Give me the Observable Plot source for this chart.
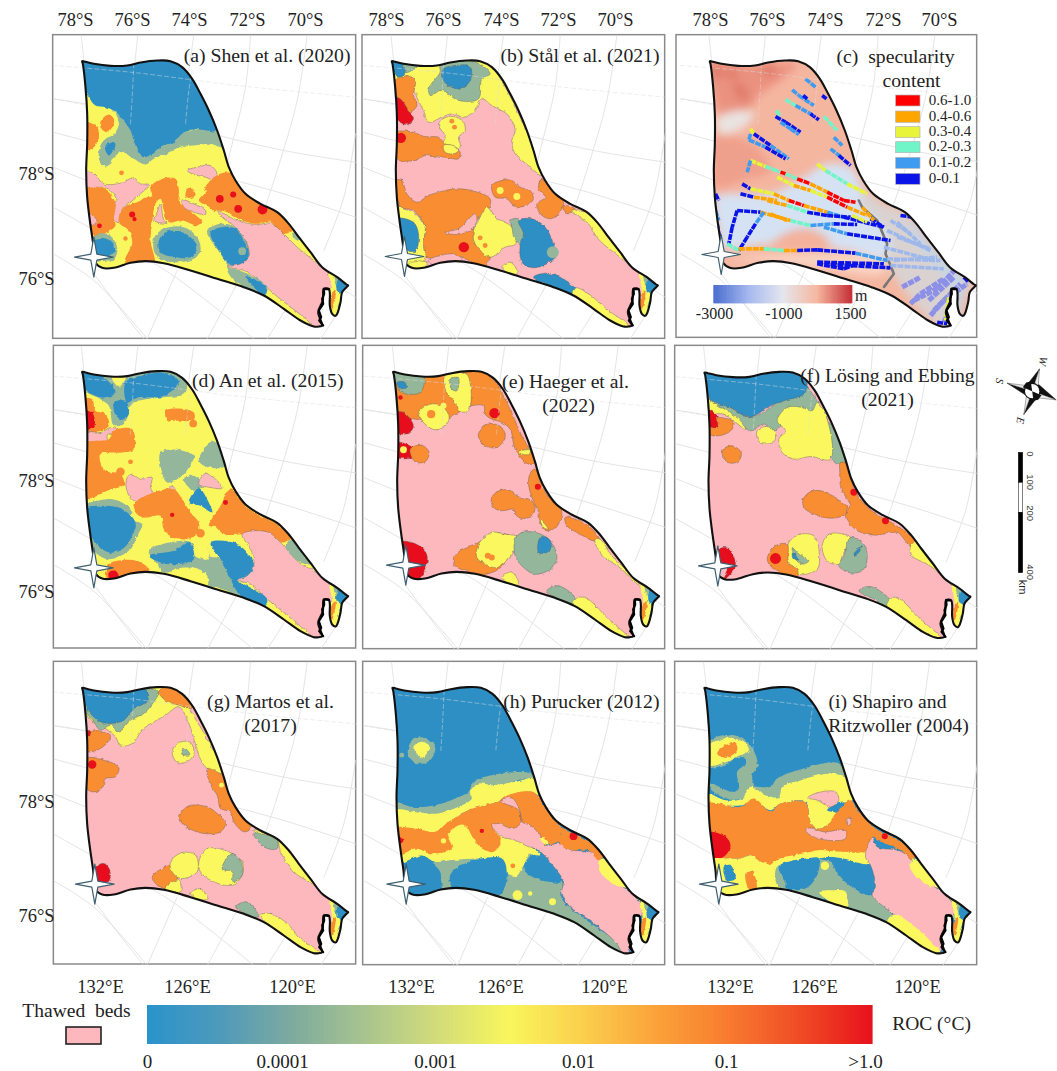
<!DOCTYPE html>
<html><head><meta charset="utf-8">
<style>html,body{margin:0;padding:0;background:#fff}svg{display:block}</style>
<script src="https://cdn.jsdelivr.net/npm/d3@7"></script>
<script src="https://cdn.jsdelivr.net/npm/@observablehq/plot@0.6"></script>
</head><body>
<div id="chart"></div>
<script>
// Map units: 1/3 page pixel, measured inside each panel's own window.
const panelKeys = ["a","b","c","d","e","f","g","h","i"];
const panelOrigins = {a:[50,30],b:[358,30],c:[670,30],d:[50,342],e:[358,342],f:[670,342],g:[50,658],h:[358,658],i:[670,658]};
const outlineShift = {a:[0,0],b:[5,0],c:[23,0],d:[0,-4],e:[9,-4],f:[7,-2],g:[0,-4],h:[7,-4],i:[7,-4]};
const starCentres = {a:[130,680],b:[138,678],c:[152,672],d:[130,676],e:[142,668],f:[142,670],g:[133,677],h:[143,677],i:[145,677]};
const frames = {a:[8,14,917,925],b:[12,14,920,925],c:[18,14,920,922],d:[10,10,917,918],e:[14,10,920,920],f:[14,10,920,920],g:[10,10,917,918],h:[14,10,920,920],i:[14,10,920,920]};
const baseClass = {a:"y",b:"p",c:"d",d:"y",e:"p",f:"p",g:"p",h:"b",i:"b"};
const edgedPanels = ["b","e","f","g"];

const classColours = {b:"#2E8FC5",t:"#94B79B",y:"#FAF75E",o:"#F88D33",r:"#E8101A",p:"#FDB8BE",d:"#F5B6A0"};
const roc = ["0","0.0001","0.001","0.01","0.1",">1.0"];
const rocTickAt = [147,282,435,578,726,865];
const rocRamp = ["#2B93CC","#4F9ABA","#7FAB9E","#A8C48F","#D2DC7A","#F9F65C","#FBD04E","#FBA43A","#F87D30","#F04E26","#E8141C"];
const demRamp = ["#4C6ED0","#A5B8EE","#E4E6EE","#F6B8A0","#C6333A"];

const outline = [95,92,105,94,130,100,180,106,230,105,270,96,320,90,360,92,395,110,425,145,450,190,475,240,500,300,520,360,535,410,555,450,585,490,630,520,680,545,715,580,745,620,780,665,815,710,860,740,888,762,893,765,888,770,875,785,870,815,860,850,855,856,845,850,838,825,838,790,835,776,820,775,817,810,803,845,815,885,805,888,790,888,750,870,700,835,640,795,580,770,500,745,420,720,340,698,285,692,240,697,190,712,155,712,135,697,128,640,118,570,110,500,107,420,110,340,110,250,105,170,97,100];
const tipBands = [
 ["y",[838,730,865,745,880,780,868,830,858,858,838,830,845,780]],
 ["o",[845,790,855,780,852,815,845,835,838,820]],
 ["t",[850,735,868,745,870,770,860,770]],
 ["b",[893,765,865,745,858,778,872,792,860,832,878,795]]
];
const graticule = [
 [92,14,100,90,105,200],[262,14,250,130,240,270,205,420],[430,14,415,120,395,290,350,470],[600,14,585,170,545,340,490,560],[770,14,740,210,680,420,620,600],
 [915,310,880,500,820,660],[8,205,130,225,400,290,700,360,915,395],[8,305,120,335,400,410,700,490,915,560],[8,410,200,485,500,590,780,720,915,800],
 [8,530,150,610,360,730,610,925],[8,670,130,750,290,925],[130,730,220,850,280,925],[560,760,470,925],[710,830,650,925],[380,720,290,925],[860,850,810,925],
];
const dashedGraticule = [[8,105,240,125,560,165,915,200],[250,100,245,200,240,280],[425,120,415,180,405,280],[8,205,100,222]];

const panelA = [
 ["t",[180,235,215,262,245,290,260,340,280,370,320,345,400,305,500,300,515,350,480,340,430,345,390,348,350,370,310,385,285,402,250,385,215,365,190,380,170,410,148,395,148,350,165,325,190,312,205,280,190,240]],
 ["b",[95,92,420,100,500,300,470,300,430,297,395,310,370,335,335,345,310,365,280,380,260,355,250,330,240,300,215,265,190,240,165,230,135,225,115,200,100,170]],
 ["o",[100,275,140,290,145,320,130,350,100,360]],
 ["o",[160,260,175,252,190,265,188,285,170,305,150,290,150,275]],
 ["b",[165,345,190,335,195,345,185,365,175,375,165,360]],
 ["p",[410,420,440,410,480,405,500,430,495,450,465,440,430,432]],
 ["p",[100,420,130,430,160,460,210,458,250,442,270,460,295,462,270,490,240,515,215,535,215,575,190,570,195,520,195,500,170,475,140,470,100,478]],
 ["o",[100,480,145,470,175,485,195,520,190,565,195,585,165,608,125,615,110,570]],
 ["p",[105,545,140,570,125,585,110,580]],
 ["o",[300,470,335,445,375,445,385,480,385,510,400,530,430,550,455,575,440,585,395,570,355,575,340,540,330,505,315,520,305,580,300,630,310,700,225,700,230,670,245,640,235,600,205,575,220,530,260,515,290,500,305,500]],
 ["p",[330,520,340,570,350,578,310,570,320,545]],
 ["o",[460,480,490,440,530,425,560,440,590,480,630,515,690,540,730,595,700,610,660,575,620,580,575,570,530,545,500,540,495,545,470,525,445,510,470,480]],
 ["o",[415,470,435,490,425,505,405,495]],
 ["p",[395,508,430,520,465,540,465,552,430,545,400,530]],
 ["t",[470,600,510,580,555,590,600,660,590,700,540,710,510,670]],
 ["b",[480,605,515,590,555,595,580,630,595,665,585,695,545,705,505,660]],
 ["p",[500,540,560,570,620,582,660,578,700,610,740,650,790,690,835,730,850,760,830,790,830,830,810,900,760,860,720,830,670,790,620,745,580,720,530,710,570,700,595,680,590,640,555,590,520,565]],
 ["t",[530,715,580,725,650,770,640,800,590,775,550,750]],
 ["b",[585,738,620,750,650,770,640,795,610,770]],
 ["t",[340,595,400,590,440,620,450,660,430,685,380,695,320,680,310,625]],
 ["b",[345,605,395,605,430,630,440,655,420,680,375,680,330,665,325,630]],
 ["t",[125,625,170,610,200,650,190,690,170,690,135,690]],
 ["b",[125,630,170,625,195,660,175,675,145,675]],
 ["t",[725,610,735,600,750,625,740,630]]
];
const dotsA = [[508,505,2.5,"r"],[548,492,1.5,"r"],[563,535,2.5,"r"],[636,537,4,"r"],[245,552,1.5,"r"],[147,586,1,"r"],[252,566,.7,"r"],[575,662,2.5,"t"],[213,427,1,"o"],[225,624,.8,"o"]];

const panelB = [
 ["y",[90,92,360,92,400,110,440,170,480,250,520,340,550,435,510,405,470,370,460,330,470,300,450,255,400,225,370,205,350,240,320,260,280,250,250,260,210,275,195,240,175,200,165,165,125,155,100,145]],
 ["t",[130,100,175,105,150,125,130,125]],
 ["b",[95,85,130,100,140,125,120,140,105,120]],
 ["t",[210,175,245,125,245,105,345,92,395,130,370,145,360,205,300,210,250,180,215,195]],
 ["b",[255,115,290,105,335,108,335,150,305,175,270,165,250,140]],
 ["o",[100,160,145,135,170,150,165,195,175,225,155,245,130,235,115,195]],
 ["r",[105,200,125,205,150,240,165,265,145,282,120,270]],
 ["y",[240,280,270,258,310,268,320,300,300,320,305,350,270,368,250,345,260,320]],
 ["o",[100,310,150,302,200,318,240,320,260,340,280,345,305,365,300,385,260,380,230,380,200,372,170,390,100,380]],
 ["y",[255,345,285,345,300,360,285,370,260,365]],
 ["y",[100,470,125,530,165,545,200,590,195,640,205,680,190,695,150,720,120,680,110,560]],
 ["o",[100,450,130,450,145,490,175,515,210,495,260,480,290,475,340,480,395,505,390,535,355,570,345,600,350,635,395,680,380,705,340,695,310,680,250,680,205,680,195,640,200,590,165,540,125,530,115,490]],
 ["b",[115,565,165,575,180,610,172,660,145,660,120,620]],
 ["p",[260,605,300,595,350,550,355,570,335,600,290,612]],
 ["p",[210,690,280,670,310,685,290,700,230,705]],
 ["y",[385,530,410,560,460,590,472,640,440,650,395,680,350,640,345,600,360,570]],
 ["t",[455,570,480,565,500,650,470,630,460,590]],
 ["b",[480,570,520,565,560,590,585,640,590,680,525,712,490,695,485,645,495,610]],
 ["o",[400,465,430,450,460,450,485,470,515,480,525,505,505,525,470,528,445,505,410,500]],
 ["o",[540,475,550,445,590,490,615,515,600,550,575,565,545,550,535,520,560,500]],
 ["o",[615,525,650,535,630,550,617,545]],
 ["y",[640,540,690,545,730,580,755,620,810,680,860,745,810,700,740,645,715,620,690,580]],
 ["b",[525,740,560,728,600,738,650,775,640,800,580,770]],
 ["y",[650,772,690,790,750,840,810,885,750,880,700,840,640,800]],
 ["y",[430,710,455,695,475,720,470,740]],
 ["y",[150,700,205,695,200,715,160,720]]
];
const dotsB = [[316,650,4.5,"r"],[127,322,4.5,"r"],[583,665,6,"t"],[425,480,2,"y"],[475,498,2,"y"],[280,272,1,"o"],[288,290,1,"o"],[365,622,1,"o"],[380,645,1,"o"]];

const demPatches = [
 ["#EFA08C",[135,315,200,320,260,350,300,420,220,450,135,470]],
 ["#EB9280",[118,92,190,100,300,100,380,100,340,140,260,200,240,230,150,250,130,200]],
 ["#E9E3E1",[140,265,190,240,250,245,220,290,150,312]],
 ["#F9D3C3",[175,690,300,672,640,690,640,730,440,712,300,695]],
 ["#D5E2F4",[135,500,170,490,300,490,400,440,470,400,540,410,580,480,640,590,660,630,650,680,540,660,400,640,300,640,160,650,145,600]],
 ["#F4B09A",[305,640,370,600,430,600,480,640,400,650]],
 ["#D9D2D0",[565,510,595,490,640,520,710,550,780,640,900,755,880,810,858,880,800,880,690,765,650,690,660,630,620,570]],
 ["#C6D5E5",[720,560,760,610,850,720,895,760,860,780,800,710,730,620]],
 ["#C6D5E5",[850,770,875,780,865,850,840,870,835,810]]
];
const demSpots = [[140,125,7],[185,130,6],[295,120,7],[205,175,6],[220,195,5]];
const demBoundary = [565,510,575,530,620,570,650,640,645,670,660,705,670,730,640,770];
const tracks = [
 [405,145,435,170,"c"],[365,178,385,195,"c"],[385,195,430,225,"c"],[398,195,410,205,"b"],[455,195,468,205,"b"],
 [345,207,375,225,"g"],[375,225,420,250,"c"],[420,250,445,268,"b"],[460,258,500,300,"g"],[490,320,515,345,"c"],[480,355,510,378,"c"],[505,375,540,405,"b"],
 [318,240,330,258,"g"],[315,258,345,275,"b"],[345,275,390,305,"b"],[330,275,360,295,"c"],[360,295,385,312,"c"],
 [240,295,250,310,"y"],[250,310,300,345,"b"],[300,345,355,385,"c"],[240,310,235,330,"c"],[235,328,285,350,"c"],[285,350,345,385,"b"],
 [240,390,285,408,"y"],[285,408,330,425,"g"],[330,425,345,430,"r"],[345,430,380,445,"g"],[380,445,420,460,"r"],[420,460,470,485,"o"],[470,485,520,510,"r"],[520,510,555,515,"r"],[240,390,230,425,"c"],
 [440,400,465,420,"y"],[465,420,530,460,"g"],[530,460,590,490,"y"],
 [215,460,240,475,"b"],[240,475,310,490,"y"],[310,490,355,510,"o"],[355,510,400,525,"r"],[400,525,470,545,"o"],[470,545,520,560,"c"],[520,560,560,570,"b"],[560,570,640,590,"b"],[600,565,640,590,"b"],
 [320,440,370,465,"y"],[370,465,420,480,"o"],[420,480,470,500,"y"],[470,500,530,530,"r"],[530,530,590,555,"o"],
 [210,490,250,500,"b"],[250,500,320,510,"o"],[290,510,350,525,"o"],[350,525,410,545,"g"],[410,545,470,555,"b"],[470,555,540,560,"b"],
 [200,540,270,545,"b"],[270,545,360,570,"o"],[360,570,420,585,"g"],[420,585,490,580,"c"],[490,580,560,582,"b"],[300,550,350,570,"o"],
 [280,545,255,580,"c"],[255,580,230,620,"b"],[230,620,205,660,"b"],[200,540,185,590,"b"],[185,590,175,640,"b"],
 [135,490,145,510,"b"],[135,540,145,570,"c"],[140,580,150,640,"b"],[170,640,205,660,"g"],
 [205,655,280,655,"o"],[280,655,340,660,"g"],[340,660,380,660,"o"],[380,660,440,658,"b"],[440,658,555,668,"b"],[555,668,650,690,"c"],
 [440,695,640,700,"b"],[440,700,520,715,"b"],[520,715,560,700,"b"],[480,702,660,712,"b"],[460,590,530,610,"c"],[530,610,660,630,"b"],
 [545,555,590,575,"y"],[575,530,610,570,"o"],
 [730,810,800,775,"v"],[800,775,870,700,"v"],[790,840,870,760,"v"],[820,875,860,800,"v"],[775,810,850,740,"v"],
 [720,820,750,790,"v"],[750,790,820,745,"v"],[780,855,820,810,"v"],[820,810,890,760,"v"],[695,770,750,740,"v"],
 [650,600,780,660,"l"],[670,690,800,680,"l"],[640,650,790,690,"l"],[660,570,720,610,"l"],[650,685,810,690,"l"],[660,705,820,715,"l"],[680,575,750,640,"l"],[680,620,780,655,"l"],
 [690,555,730,560,"b"],[880,740,895,755,"b"],[800,875,830,880,"b"],[835,800,825,870,"y"]
];
const trackColours = {r:"#FF0000",o:"#FFA500",y:"#E8F43A",g:"#6FF5C8",c:"#3F9BF0",b:"#0A14E8",v:"#8C90E6",l:"#9FB8EC"};
const specLabels = ["0.6-1.0","0.4-0.6","0.3-0.4","0.2-0.3","0.1-0.2","0-0.1"];
const specKeys = ["r","o","y","g","c","b"];
const specBoxes = [[195,228],[243,277],[290,323],[335,368],[382,415],[430,463]];

const panelD = [
 ["t",[95,88,390,95,410,130,400,155,330,165,250,180,235,200,225,240,190,250,175,190,150,170,105,145]],
 ["b",[85,80,160,105,195,150,160,165,105,140]],
 ["b",[225,120,270,100,350,92,385,118,340,160,260,165,230,180]],
 ["b",[190,180,225,175,235,215,215,232,195,215]],
 ["y",[185,105,225,105,210,130,195,125]],
 ["o",[345,205,380,198,430,210,430,232,380,235,350,232]],
 ["o",[100,170,125,170,135,205,165,215,175,250,130,270,100,265]],
 ["r",[100,205,125,210,132,250,112,262,100,262]],
 ["p",[105,268,150,270,180,255,205,262,170,280,170,295,105,295]],
 ["o",[100,305,175,290,190,265,245,260,250,320,215,330,150,335,150,360,165,385,210,395,220,425,170,445,100,470]],
 ["t",[330,330,380,322,430,340,415,375,395,400,350,420,330,370]],
 ["t",[445,355,480,300,510,300,525,370,475,375]],
 ["t",[400,410,430,400,455,430,430,445]],
 ["p",[230,405,245,395,270,410,305,405,300,435,315,465,250,475,228,440]],
 ["p",[445,425,465,392,490,405,515,437,480,435]],
 ["p",[345,455,365,430,375,445,360,460]],
 ["b",[415,480,445,437,470,470,485,510,450,490]],
 ["o",[255,480,310,450,370,440,395,470,420,510,445,540,440,575,380,590,340,560,330,520,280,525,255,510]],
 ["o",[475,550,510,490,540,440,585,490,630,520,680,545,720,585,695,600,650,570,575,575,520,575,490,550]],
 ["p",[575,575,650,568,695,605,745,660,800,690,845,740,850,770,830,790,825,830,800,890,760,860,700,810,650,770,600,725,560,712,590,700,610,670,600,620]],
 ["t",[705,610,725,590,760,640,780,665,750,660,720,635]],
 ["t",[100,495,170,470,215,480,245,510,240,530,275,545,260,580,240,620,170,650,120,610]],
 ["b",[100,500,165,490,215,500,255,540,240,590,215,620,175,630,145,610,115,570]],
 ["t",[295,625,400,595,430,605,420,625,440,645,475,650,470,610,480,640,510,650,540,700,570,770,530,745,470,725,460,690,400,675,340,690,320,665]],
 ["b",[295,640,370,625,415,600,430,650,380,665,330,660]],
 ["b",[480,600,560,605,610,665,590,700,560,712,590,730,650,770,640,795,570,760,535,700,510,650]],
 ["y",[375,690,430,675,470,700,470,730,410,712]],
 ["o",[175,665,240,652,280,665,298,685,240,695,190,715,165,705]],
 ["r",[175,690,195,685,205,705,180,716]]
];
const dotsD = [[428,243,2.5,"o"],[450,572,3,"o"],[210,388,3,"o"],[240,358,1,"o"],[365,517,.8,"r"],[525,480,1,"r"]];

const panelE = [
 ["o",[95,80,360,85,400,105,440,170,490,280,530,360,510,365,470,320,455,260,430,240,400,230,380,215,375,190,340,190,300,210,265,235,240,260,215,255,190,235,150,225,115,200]],
 ["t",[105,90,195,100,185,150,130,150,115,130]],
 ["b",[115,120,135,118,145,135,125,138]],
 ["y",[260,100,325,95,330,205,300,205,290,180,262,145]],
 ["t",[275,110,300,105,295,145,280,140]],
 ["y",[180,210,215,185,250,190,272,225,260,250,230,262,195,240]],
 ["r",[110,210,135,210,165,250,150,272,115,270]],
 ["r",[110,300,165,318,160,345,110,342]],
 ["o",[155,320,190,308,212,330,200,358,170,358]],
 ["o",[365,260,395,243,430,255,440,285,415,315,380,310,360,285]],
 ["y",[480,328,515,322,512,335,490,335]],
 ["o",[520,385,530,380,560,450,610,510,590,555,565,565,545,540,540,510,515,450,510,410]],
 ["y",[545,530,570,560,555,555]],
 ["o",[398,470,415,448,450,442,475,458,490,468,515,470,530,495,520,520,490,528,470,515,465,500,430,505,405,495]],
 ["o",[620,525,650,530,690,550,722,590,705,595,665,575,625,550]],
 ["y",[710,590,725,590,760,640,800,680,860,745,810,700,790,680,740,645,720,625]],
 ["r",[120,600,160,600,200,625,205,665,175,715,150,705,120,650]],
 ["o",[285,650,310,620,360,600,390,575,420,570,470,590,455,640,420,680,380,695,320,685,290,670]],
 ["y",[360,605,400,570,440,575,478,585,465,630,415,675,380,665,355,645]],
 ["t",[470,590,490,570,540,572,580,600,595,650,575,680,530,695,495,675,470,640]],
 ["b",[545,585,565,585,582,610,565,630,540,630]],
 ["y",[432,705,458,688,480,720,470,730]],
 ["t",[565,745,600,730,650,765,655,785,610,775]],
 ["y",[650,770,680,765,750,830,810,885,760,870,700,830,645,795]]
];
const dotsE = [[408,212,4.5,"r"],[218,215,2.8,"o"],[135,322,2,"y"],[538,433,1.5,"r"],[388,640,1.5,"o"],[400,645,1.5,"o"],[126,165,.8,"r"],[255,190,1.5,"y"]];

const panelF = [
 ["t",[100,165,180,195,240,225,300,195,400,130,430,160,470,230,530,350,500,365,475,330,470,270,350,265,335,250,310,265,280,245,240,265,215,250,170,220,130,200]],
 ["b",[95,85,150,95,230,100,300,90,350,88,405,110,410,130,400,155,340,175,290,195,240,225,180,195,120,170]],
 ["y",[105,165,135,185,170,205,215,240,225,262,190,235,160,215,115,210]],
 ["y",[260,265,285,252,310,262,312,295,265,297]],
 ["y",[320,235,350,195,395,195,425,205,440,180,470,230,480,350,420,342,370,350,335,330,325,290,345,265]],
 ["o",[115,235,150,225,190,240,185,260,155,278,115,275]],
 ["r",[115,205,135,215,140,255,115,250]],
 ["o",[158,320,185,310,212,330,205,355,180,362,158,345]],
 ["o",[510,360,530,365,555,450,610,510,680,550,735,595,720,610,680,570,620,578,570,570,530,535,525,515,535,495,540,485,512,440,508,395]],
 ["o",[398,470,425,445,470,450,500,470,528,490,525,515,480,527,430,515,400,495]],
 ["y",[720,610,735,600,800,680,860,745,805,690,770,665,725,640]],
 ["y",[355,600,390,575,430,580,445,620,440,680,380,695,355,660]],
 ["o",[290,650,315,610,350,605,355,665,380,680,380,705,340,695,310,680]],
 ["t",[365,615,385,635,415,655,395,665,375,650]],
 ["b",[365,635,375,635,385,652,370,648]],
 ["y",[455,610,475,575,520,575,540,585,515,640,505,665,470,655]],
 ["t",[520,640,540,585,580,605,590,650,575,685,535,690,505,670]],
 ["b",[550,635,575,610,565,630,552,638]],
 ["r",[145,620,175,618,195,670,175,700,160,712,170,670,145,660]],
 ["t",[565,745,600,732,660,775,655,795,610,770]],
 ["y",[655,770,680,765,750,830,810,885,760,870,700,830,650,795]]
];
const dotsF = [[315,648,5,"r"],[550,449,2,"r"],[645,535,2,"r"]];

const panelG = [
 ["y",[90,85,340,85,400,130,440,190,510,310,530,350,500,345,460,320,415,195,385,145,345,170,280,210,245,255,210,262,195,235,165,210,115,180]],
 ["o",[325,100,345,85,385,100,425,150,385,140,350,130]],
 ["t",[100,150,130,190,150,215,180,200,205,220,240,185,280,165,310,130,325,100,290,90,95,85]],
 ["b",[90,85,290,98,290,130,250,150,220,185,180,195,150,190,120,165,100,130]],
 ["o",[105,220,155,220,180,235,150,270,105,278]],
 ["r",[105,218,120,220,118,232,105,230]],
 ["y",[365,280,385,252,420,252,430,285,410,310,380,312]],
 ["t",[392,285,402,268,418,288,405,290]],
 ["o",[105,300,170,308,205,325,195,355,165,360,155,390,125,400,105,385]],
 ["o",[470,330,510,345,530,350,555,440,600,510,580,520,550,490,540,460,510,450,500,410,480,380]],
 ["o",[388,470,415,442,470,445,500,465,525,495,510,520,460,525,415,510,395,495]],
 ["y",[610,515,680,540,725,585,805,685,860,745,790,680,730,640,690,580,680,545,640,540]],
 ["t",[610,525,650,530,680,545,680,570,650,570,620,545]],
 ["r",[137,625,160,615,178,635,175,668,140,668]],
 ["o",[305,655,345,625,370,620,385,655,345,690,320,680]],
 ["y",[360,610,395,582,435,590,440,640,390,660,365,640]],
 ["y",[350,680,385,665,390,700,345,695]],
 ["y",[445,610,470,570,530,578,575,610,575,650,545,680,490,670,450,640]],
 ["t",[515,630,545,585,570,605,575,650,548,670,545,640]],
 ["y",[420,705,450,690,472,722,440,720]],
 ["t",[555,745,590,730,625,775,585,765]],
 ["y",[630,770,660,765,710,795,750,840,810,885,750,880,690,830]]
];
const dotsG = [[125,318,3,"r"],[513,380,1,"y"]];

const panelH = [
 ["t",[148,285,165,240,195,238,230,265,215,305,175,315]],
 ["y",[165,265,190,250,215,265,205,285,190,300,175,285]],
 ["t",[105,430,160,445,230,440,290,420,330,400,345,370,400,350,515,345,535,370,500,360,400,400,340,430,250,470,180,465,105,460]],
 ["t",[225,610,435,598,520,575,610,670,610,720,650,760,815,885,790,890,700,840,425,720,285,700,255,700,245,640]],
 ["y",[105,455,180,462,240,465,300,445,340,420,335,400,360,375,400,380,470,370,530,360,540,410,520,400,470,410,420,430,320,460,270,490,230,515,180,510,105,505]],
 ["y",[105,500,300,470,430,520,510,570,430,600,345,600,270,605,230,610,190,590,120,610]],
 ["y",[120,590,170,570,220,590,280,570,265,535,300,505,345,545,370,580,410,575,430,545,510,570,490,630,470,655,440,640,430,600,345,600,270,605,230,610,190,590,125,610]],
 ["o",[105,510,170,510,230,520,270,490,330,455,420,430,455,420,480,460,480,500,450,515,415,510,400,495,410,520,430,545,405,580,370,570,345,540,320,500,300,500,270,530,280,570,220,585,170,570,120,590]],
 ["b",[275,650,320,615,430,600,445,650,425,708,340,700,285,695]],
 ["b",[495,630,520,590,560,590,590,635,610,670,570,670,530,660]],
 ["o",[420,430,520,400,560,450,610,540,500,560,430,530]],
 ["y",[430,535,510,560,545,590,510,585,430,565]],
 ["p",[425,428,460,418,485,460,490,490,515,500,545,530,560,560,600,555,640,575,690,580,730,610,740,650,800,690,845,735,850,770,830,790,825,840,800,890,770,850,700,790,630,740,610,700,615,670,590,630,540,575,510,565,470,545,430,535,400,500,420,495,460,510,485,495,480,455]],
 ["o",[490,405,520,400,540,415,560,450,615,510,685,545,735,590,720,605,690,575,640,575,600,550,610,525,590,525,570,535,545,520,540,490,510,470,490,430]],
 ["y",[720,610,735,600,790,660,860,745,805,690,770,680,725,640]],
 ["y",[545,540,560,540,570,560,555,555]],
 ["r",[115,532,135,545,125,555,115,550]]
];
const dotsH = [[645,533,2.5,"r"],[477,710,4,"y"],[582,730,2,"y"],[463,622,1,"o"],[130,290,1,"t"],[370,517,.8,"r"],[255,547,1.2,"y"],[515,705,.8,"y"]];

const panelI = [
 ["t",[110,255,175,228,235,255,262,320,245,350,250,385,215,420,165,420,115,385,120,375,185,400,205,390,200,340,230,310,210,295,165,318,110,325]],
 ["t",[250,385,300,385,320,360,400,330,505,315,535,365,480,345,400,365,335,385,325,420,285,410]],
 ["y",[110,262,145,245,180,238,225,255,235,275,200,295,170,310,110,320]],
 ["y",[110,405,165,425,215,420,240,385,285,410,325,415,335,385,390,365,480,345,530,360,545,425,500,435,470,455,500,465,470,500,440,510,420,490,405,430,330,435,300,455,250,425,215,440,110,430]],
 ["y",[120,600,300,600,400,570,500,570,590,580,600,615,480,595,445,600,320,630]],
 ["o",[140,285,170,258,195,255,200,275,165,298]],
 ["p",[412,418,440,403,495,400,505,425,480,445,440,425]],
 ["o",[105,438,210,445,250,420,300,458,330,435,405,432,420,490,440,510,470,500,495,465,540,425,565,460,615,510,685,545,735,590,720,605,690,575,620,545,605,535,590,580,560,580,500,580,445,575,400,585,330,600,300,620,270,610,240,590,210,600,170,600,120,605]],
 ["p",[405,515,420,508,460,520,525,515,525,540,470,545,420,530]],
 ["p",[528,482,540,480,540,498,530,498]],
 ["r",[115,522,165,535,180,560,165,590,125,605]],
 ["y",[120,605,170,600,210,600,240,590,270,610,300,620,320,630,345,695,285,695,185,715,155,715,125,700]],
 ["y",[300,620,400,585,500,580,590,590,600,615,480,595,445,600,320,630]],
 ["t",[320,625,420,600,440,600,610,660,615,690,610,715,665,770,650,790,560,760,450,720,350,700,320,680]],
 ["y",[445,700,490,695,525,700,528,745,480,730]],
 ["b",[325,625,420,598,445,600,440,650,405,690,345,690,345,670]],
 ["b",[483,600,540,605,590,630,615,680,605,710,550,690,510,655]],
 ["p",[605,535,620,565,690,578,725,610,745,660,800,690,850,740,850,770,830,790,825,840,800,890,770,850,700,790,640,745,605,710,615,680,600,620,585,595]],
 ["o",[225,645,245,640,258,690,238,695]],
 ["b",[160,625,180,620,195,660,170,668]],
 ["y",[720,610,735,600,860,745,805,690,770,680,725,640]],
 ["y",[665,770,700,780,810,885,760,875,650,795]]
];
const dotsI = [[463,622,3,"y"],[643,533,1.5,"r"]];

const panelPolys = {a:panelA,b:panelB,c:demPatches,d:panelD,e:panelE,f:panelF,g:panelG,h:panelH,i:panelI};
const panelDots = {a:dotsA,b:dotsB,c:[],d:dotsD,e:dotsE,f:dotsF,g:dotsG,h:dotsH,i:dotsI};

const starShape = [0,-60,9,-9,58,0,9,9,0,60,-9,9,-58,0,-9,-9];
const compassTips = [["#111",[140,152,162,85,128,128]],["#EEE",[140,152,162,85,158,138]],["#111",[140,152,212,178,160,132]],["#EEE",[140,152,212,178,155,172]],["#111",[140,152,115,222,150,178]],["#EEE",[140,152,115,222,122,172]],["#111",[140,152,65,128,122,165]],["#EEE",[140,152,65,128,122,135]]];
const compassQuads = [[140,152,112,140,122,126,136,123],[140,152,168,164,158,178,144,181]];

const topTicks = ["78°S","76°S","74°S","72°S","70°S"];
const topTickRows = [[75,132,189,247,305],[386,443,501,558,615],[710,767,825,883,939]];
const leftTicks = [["78°S",174],["76°S",279],["78°S",481],["76°S",592],["78°S",802],["76°S",916]];
const bottomTicks = [["132°E",100],["126°E",187],["120°E",292],["132°E",411],["126°E",500],["120°E",604],["132°E",730],["126°E",814],["120°E",917]];
const titlesEnd = [["(a) Shen et al. (2020)",350,55],["(b) Stål et al. (2021)",659,55],["(d) An et al. (2015)",343,380],["(h) Purucker (2012)",659,701]];
const titlesMid = [
 ["(c)  specularity",895,56],["content",911,80],
 ["(e) Haeger et al.",565,381],["(2022)",568,405],
 ["(f) Lösing and Ebbing",887,375],["(2021)",887,399],
 ["(g) Martos et al.",270,701],["(2017)",270,725],
 ["(i) Shapiro and",887,701],["Ritzwoller (2004)",898,725]
];

// ---- table builders ----
const pairs = f => d3.range(0,f.length,2).map(i=>[f[i],f[i+1]]);
const toPage = (k,zx,zy) => [panelOrigins[k][0]+zx/3, panelOrigins[k][1]+zy/3];
const ring = (k,flat,id,extra={},sx=0,sy=0) => pairs(flat).map(([a,b])=>{const [x,y]=toPage(k,a+sx,b+sy);return {x,y,id,...extra}});
const serif = "Liberation Serif";
const curve = "catmull-rom-closed";
const marks = [];
const clips = [];

marks.push(Plot.rect(panelKeys.map(k=>{const f=frames[k],o=panelOrigins[k];return {x1:o[0]+f[0]/3,y1:o[1]+f[1]/3,x2:o[0]+f[2]/3,y2:o[1]+f[3]/3}}),{x1:"x1",x2:"x2",y1:"y1",y2:"y2",fill:"white",stroke:"#8a8a8a",strokeWidth:1.5}));

for (const k of panelKeys) {
  const [sx,sy] = outlineShift[k];
  const grid = graticule.flatMap((g,i)=>ring(k,g,`${k}g${i}`,{},sx,sy));
  marks.push(Plot.line(grid,{x:"x",y:"y",z:"id",stroke:"#DDDDDD",strokeWidth:.8,curve:"catmull-rom",ariaDescription:`frame-${k}`}));
  const out = ring(k,outline,`${k}out`,{},sx,sy);
  marks.push(Plot.line(out,{x:"x",y:"y",z:"id",fill:classColours[baseClass[k]],stroke:"none",curve}));
  const rows = [];
  panelPolys[k].forEach(([c,flat],i)=>{
    const colour = classColours[c] || c;
    const edge = c==="p" || edgedPanels.includes(k);
    rows.push(...ring(k,flat,`${k}${i}`,{colour,edge:edge?.8:0}));
  });
  if (k!=="c") tipBands.forEach(([c,flat],i)=>rows.push(...ring(k,flat,`${k}t${i}`,{colour:classColours[c],edge:0},sx,sy)));
  marks.push(Plot.line(rows,{x:"x",y:"y",z:"id",fill:"colour",stroke:"#5a5a5a",strokeWidth:.5,strokeOpacity:"edge",curve,ariaDescription:k==="c"?"dem-c":`field-${k}`}));
  if (k==="c") {
    marks.push(Plot.dot(demSpots,{x:d=>toPage(k,d[0],d[1])[0],y:d=>toPage(k,d[0],d[1])[1],r:d=>d[2],fill:"#DD7566",fillOpacity:.8,ariaDescription:"dem-c"}));
    marks.push(Plot.line(ring(k,demBoundary,"bd"),{x:"x",y:"y",z:"id",stroke:"#777",strokeWidth:2.6,strokeDasharray:"5 1",ariaDescription:"map-c"}));
    marks.push(Plot.link(tracks,{x1:d=>toPage(k,d[0],d[1])[0],y1:d=>toPage(k,d[0],d[1])[1],x2:d=>toPage(k,d[2],d[3])[0],y2:d=>toPage(k,d[2],d[3])[1],stroke:d=>trackColours[d[4]],strokeWidth:d=>d[4]==="v"?5:3.6,strokeDasharray:"6 1",ariaDescription:"map-c"}));
  }
  if (panelDots[k].length) marks.push(Plot.dot(panelDots[k],{x:d=>toPage(k,d[0],d[1])[0],y:d=>toPage(k,d[0],d[1])[1],r:d=>d[2],fill:d=>classColours[d[3]],ariaDescription:`map-${k}`}));
  marks.push(Plot.line(dashedGraticule.flatMap((g,i)=>ring(k,g,`${k}dg${i}`,{},sx,sy)),{x:"x",y:"y",z:"id",stroke:"#DDDDDD",strokeOpacity:.7,strokeWidth:.7,strokeDasharray:"4 3",curve:"catmull-rom",ariaDescription:`frame-${k}`}));
  marks.push(Plot.line(out,{x:"x",y:"y",z:"id",stroke:"#111",strokeWidth:2.1,curve}));
  const notch = ring(k,[835,776,820,775,821,790,815,805,818,820,805,840,812,860,806,870,818,885],`${k}n`,{},sx,sy);
  marks.push(Plot.line(notch,{x:"x",y:"y",z:"id",stroke:"#000",strokeWidth:2.2}));
  const [cx,cy] = starCentres[k];
  marks.push(Plot.line(pairs(starShape).map(([a,b])=>{const [x,y]=toPage(k,cx+a,cy+b);return {x,y,id:`${k}star`}}),{x:"x",y:"y",z:"id",fill:"white",stroke:"#3E5F70",strokeWidth:1.2,curve:"linear-closed"}));
  clips.push(k);
}

// panel (c) legend and elevation ramp
const cPage = (a,b)=>toPage("c",a,b);
marks.push(Plot.rect(specKeys.map((c,i)=>({c,a:specBoxes[i][0],b:specBoxes[i][1]})),{x1:()=>cPage(677,0)[0],x2:()=>cPage(750,0)[0],y1:d=>cPage(0,d.a)[1],y2:d=>cPage(0,d.b)[1],fill:d=>trackColours[d.c],stroke:"#B5B5B5",strokeWidth:.7}));
marks.push(Plot.text(specLabels,{x:()=>cPage(775,0)[0],y:(d,i)=>cPage(0,(specBoxes[i][0]+specBoxes[i][1])/2-3)[1],text:d=>d,textAnchor:"start",fontFamily:serif,fontSize:15,fill:"#222"}));
const demFill = d3.piecewise(d3.interpolateRgb,demRamp);
const demSteps = d3.range(80);
marks.push(Plot.rect(demSteps,{x1:d=>cPage(130+d*415/80,0)[0],x2:d=>cPage(130+(d+1.4)*415/80,0)[0],y1:()=>cPage(0,765)[1],y2:()=>cPage(0,820)[1],fill:d=>demFill(d/79)}));
marks.push(Plot.text([["-3000",132],["-1000",340],["1500",540]],{x:d=>cPage(d[1],0)[0],y:()=>cPage(0,850)[1],text:d=>d[0],fontFamily:serif,fontSize:16,fill:"#222"}));
marks.push(Plot.text(["m"],{x:()=>cPage(572,0)[0],y:()=>cPage(0,795)[1],text:d=>d,fontFamily:serif,fontSize:16,fill:"#222"}));

// axes labels and titles
const axisFont = {fontFamily:serif,fontSize:18.5,fill:"#222"};
topTickRows.forEach(row=>marks.push(Plot.text(row,{x:d=>d,y:()=>20,text:(d,i)=>topTicks[i],...axisFont})));
marks.push(Plot.text(leftTicks,{x:()=>36,y:d=>d[1],text:d=>d[0],...axisFont}));
marks.push(Plot.text(bottomTicks,{x:d=>d[1],y:()=>987,text:d=>d[0],...axisFont}));
const titleFont = {fontFamily:serif,fontSize:19.7,fill:"#222"};
marks.push(Plot.text(titlesEnd,{x:d=>d[1],y:d=>d[2],text:d=>d[0],textAnchor:"end",...titleFont}));
marks.push(Plot.text(titlesMid,{x:d=>d[1],y:d=>d[2],text:d=>d[0],textAnchor:"middle",...titleFont}));

// bottom ramp
const rocFill = d3.piecewise(d3.interpolateRgb,rocRamp);
const rocSteps = d3.range(180);
marks.push(Plot.rect(rocSteps,{x1:d=>147+d*724/180,x2:d=>147+(d+1.4)*724/180,y1:()=>1005,y2:()=>1044,fill:d=>rocFill(d/179)}));
marks.push(Plot.text(roc,{x:(d,i)=>rocTickAt[i],y:()=>1061,text:d=>d,fontFamily:serif,fontSize:19,fill:"#222"}));
marks.push(Plot.text(["ROC (°C)"],{x:()=>931,y:()=>1023,text:d=>d,fontFamily:serif,fontSize:19.5,fill:"#222"}));
marks.push(Plot.text(["Thawed  beds"],{x:()=>76,y:()=>1010,text:d=>d,fontFamily:serif,fontSize:19.5,fill:"#222"}));
marks.push(Plot.rect(["thawed"],{x1:()=>66,x2:()=>101,y1:()=>1027,y2:()=>1044,fill:classColours.p,stroke:"#222",strokeWidth:1.6}));

// compass and scale bar
const sidePage = (a,b)=>[985+a/3,340+b/3];
const sideRows = (flat,id,colour)=>pairs(flat).map(([a,b])=>{const [x,y]=sidePage(a,b);return {x,y,id,colour}});
marks.push(Plot.line(compassTips.flatMap(([c,f],i)=>sideRows(f,`tip${i}`,c)),{x:"x",y:"y",z:"id",fill:"colour",stroke:"#333",strokeWidth:.4,curve:"linear-closed"}));
marks.push(Plot.dot([0],{x:()=>sidePage(140,152)[0],y:()=>sidePage(140,152)[1],r:()=>10,fill:"white",stroke:"#111",strokeWidth:1.1}));
marks.push(Plot.line(compassQuads.flatMap((f,i)=>sideRows(f,`q${i}`,"#111")),{x:"x",y:"y",z:"id",fill:"#111",stroke:"none",curve:"linear-closed"}));
marks.push(Plot.text([["W",172,62],["S",42,122],["E",105,240]],{x:d=>sidePage(d[1],d[2])[0],y:d=>sidePage(d[1],d[2])[1],text:d=>d[0],rotate:100,fontFamily:serif,fontStyle:"italic",fontSize:11,fill:"#222"}));
marks.push(Plot.rect([[337,427,"#000"],[427,517,"#fff"],[517,698,"#000"]],{x1:()=>sidePage(100,0)[0],x2:()=>sidePage(113,0)[0],y1:d=>sidePage(0,d[0])[1],y2:d=>sidePage(0,d[1])[1],fill:d=>d[2],stroke:"#000",strokeWidth:.5}));
marks.push(Plot.text([["0",340],["100",425],["200",518],["400",695]],{x:()=>sidePage(135,0)[0],y:d=>sidePage(0,d[1])[1],text:d=>d[0],rotate:90,fontFamily:"Liberation Sans",fontSize:9.5,fill:"#333"}));
marks.push(Plot.text(["km"],{x:()=>sidePage(110,0)[0],y:()=>sidePage(0,740)[1],text:d=>d,rotate:90,fontFamily:"Liberation Sans",fontSize:11,fill:"#222"}));

const svg = Plot.plot({
  width:1057,height:1071,margin:0,
  x:{type:"linear",domain:[0,1057],range:[0,1057],axis:null},
  y:{type:"linear",domain:[0,1071],range:[0,1071],axis:null},
  style:{background:"white",overflow:"hidden"},
  marks
});

// clip each panel's fields to the glacier outline, and its graticule to its frame
const NS = "http://www.w3.org/2000/svg";
const defs = document.createElementNS(NS,"defs");
const lineGen = d3.line().curve(d3.curveCatmullRomClosed);
const rough = document.createElementNS(NS,"filter");
rough.setAttribute("id","rough");
rough.setAttribute("filterUnits","userSpaceOnUse");
rough.setAttribute("x","0");rough.setAttribute("y","0");rough.setAttribute("width","1057");rough.setAttribute("height","1071");
const turb = document.createElementNS(NS,"feTurbulence");
turb.setAttribute("type","fractalNoise");turb.setAttribute("baseFrequency","0.22");turb.setAttribute("numOctaves","2");turb.setAttribute("seed","4");turb.setAttribute("result","n");
const disp = document.createElementNS(NS,"feDisplacementMap");
disp.setAttribute("in","SourceGraphic");disp.setAttribute("in2","n");disp.setAttribute("scale","3.2");disp.setAttribute("xChannelSelector","R");disp.setAttribute("yChannelSelector","G");
rough.append(turb,disp);defs.appendChild(rough);
for (const k of clips) {
  const [sx,sy]=outlineShift[k];
  const mk = (id,d)=>{const c=document.createElementNS(NS,"clipPath");c.setAttribute("id",id);const p=document.createElementNS(NS,"path");p.setAttribute("d",d);c.appendChild(p);defs.appendChild(c)};
  mk(`clip-map-${k}`,lineGen(pairs(outline).map(([a,b])=>toPage(k,a+sx,b+sy))));
  const f=frames[k],o=panelOrigins[k];
  mk(`clip-frame-${k}`,`M${o[0]+f[0]/3},${o[1]+f[1]/3}H${o[0]+f[2]/3}V${o[1]+f[3]/3}H${o[0]+f[0]/3}Z`);
  svg.querySelectorAll(`[aria-description="map-${k}"]`).forEach(g=>g.setAttribute("clip-path",`url(#clip-map-${k})`));
  svg.querySelectorAll(`[aria-description="frame-${k}"]`).forEach(g=>g.setAttribute("clip-path",`url(#clip-frame-${k})`));
  svg.querySelectorAll(`[aria-description="field-${k}"]`).forEach(g=>{g.setAttribute("clip-path",`url(#clip-map-${k})`);g.setAttribute("filter","url(#rough)")});
}
svg.querySelectorAll(`[aria-description="dem-c"]`).forEach(g=>{g.setAttribute("clip-path","url(#clip-map-c)");g.style.filter="blur(4px)"});
svg.insertBefore(defs,svg.firstChild);
document.getElementById("chart").appendChild(svg);
</script>
</body></html>
